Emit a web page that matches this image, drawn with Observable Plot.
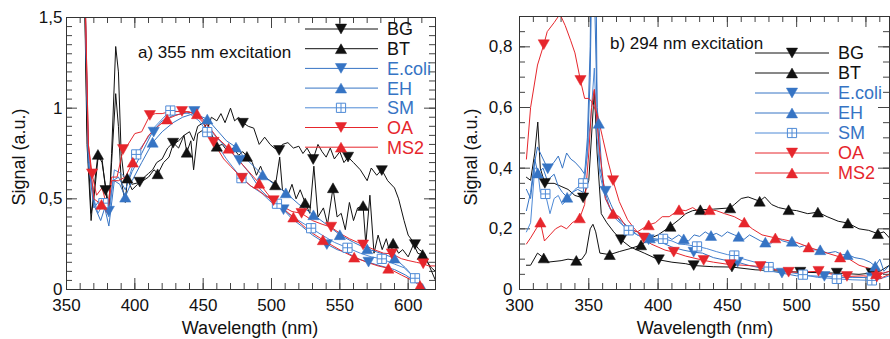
<!DOCTYPE html>
<html><head><meta charset="utf-8">
<script src="https://cdn.jsdelivr.net/npm/d3@7"></script>
<script src="https://cdn.jsdelivr.net/npm/@observablehq/plot@0.6"></script>
<style>
body{margin:0;background:#fff;}
#wrap{display:flex;width:890px;height:339px;}
svg{overflow:visible}
</style></head>
<body><div id="wrap"></div>
<script>
// ---------- DATA ----------
const seriesNames = ["BG","BT","E.coli","EH","SM","OA","MS2"];
const xTicksA = [350,400,450,500,550,600];
const yTicksA = [0,0.5,1,1.5];
const xTicksB = [300,350,400,450,500,550];
const yTicksB = [0,0.2,0.4,0.6,0.8];
const titleA = "a) 355 nm excitation";
const titleB = "b) 294 nm excitation";

// Panel a (355 nm excitation) lines: [wavelength nm, signal]
const aBG = [[362,2.2],[365,0.9],[368,0.42],[370,0.5],[373,0.72],[376,0.72],[378.6,0.55],[381,0.42],[383,0.75],[386,1.34],[388,1.2],[390,0.75],[392,0.62],[395,0.6],[398,0.58],[403,0.59],[407,0.62],[410,0.64],[413,0.66],[416,0.7],[420,0.72],[424,0.78],[428,0.81],[432,0.78],[436,0.85],[440,0.87],[443,0.82],[446,0.9],[450,0.92],[453,0.88],[456,0.95],[460,0.93],[463,0.97],[466,0.92],[470,1.0],[473,0.93],[476,0.95],[479,0.92],[483,0.9],[487,0.89],[491,0.8],[495,0.84],[499,0.8],[502,0.78],[505.6,0.77],[508,0.8],[512,0.81],[516,0.78],[520,0.79],[523,0.75],[526,0.78],[530.5,0.72],[534,0.8],[537,0.76],[540,0.73],[543,0.78],[546,0.72],[550,0.76],[553,0.7],[556,0.73],[560,0.7],[565,0.66],[570,0.6],[573,0.67],[577,0.63],[580.7,0.66],[585,0.6],[590,0.56],[593,0.5],[597,0.38],[600,0.3],[605,0.25],[608,0.22],[612,0.2],[616,0.12],[620,0.05]];
const aBT = [[362,2.2],[365,0.8],[368,0.38],[370,0.55],[373,0.745],[376,0.7],[378,0.6],[381,0.45],[383,0.7],[386,1.08],[388,0.9],[390,0.6],[393,0.48],[394.5,0.61],[398,0.55],[402,0.58],[406,0.6],[410,0.62],[414,0.66],[417,0.64],[421,0.7],[425,0.73],[428,0.8],[432,0.82],[436,0.85],[438,0.757],[441,0.82],[443,0.66],[446,0.86],[450,0.88],[453,0.92],[456,0.86],[460,0.79],[464,0.8],[468,0.76],[472,0.78],[476,0.74],[479,0.76],[482,0.734],[486,0.7],[489,0.63],[492,0.68],[495,0.62],[499,0.6],[503,0.58],[506,0.73],[508,0.55],[512,0.52],[515,0.58],[518,0.5],[521,0.55],[524.6,0.478],[528,0.42],[531,0.68],[534,0.4],[538,0.45],[541,0.36],[545,0.56],[548,0.4],[551,0.42],[554,0.33],[557,0.48],[560,0.38],[563,0.45],[567,0.46],[569,0.25],[572,0.52],[575,0.2],[578,0.3],[581,0.22],[584,0.28],[587,0.19],[589,0.255],[593,0.2],[596,0.22],[600,0.18],[604,0.25],[607,0.2],[610.6,0.19],[614,0.15],[617,0.12],[620,0.1]];
const aEcoli = [[362,2.2],[366,0.7],[370,0.45],[375,0.5],[378,0.45],[381,0.43],[384,0.6],[388,0.62],[393,0.55],[398,0.65],[405,0.75],[413,0.87],[420,0.93],[428,0.96],[435,0.97],[443.5,0.98],[450,0.94],[455,0.88],[462,0.82],[470,0.76],[476.6,0.71],[485,0.63],[492,0.55],[500,0.49],[508.8,0.44],[515,0.39],[522,0.35],[530,0.3],[540.5,0.25],[548,0.22],[556,0.2],[563,0.17],[571,0.15],[580,0.13],[590,0.11],[598,0.08],[604,0.05]];
const aEH = [[362,2.2],[366,0.7],[371,0.45],[375,0.38],[378,0.45],[381,0.35],[385,0.6],[389,0.58],[393,0.51],[398,0.6],[405,0.7],[413,0.81],[420,0.87],[428,0.92],[435,0.95],[443,0.97],[453,0.94],[460,0.88],[467,0.82],[474,0.785],[480,0.73],[487,0.68],[493.5,0.63],[502,0.58],[510.5,0.533],[520,0.47],[530.7,0.412],[540,0.36],[550,0.302],[560,0.26],[570,0.224],[580,0.2],[590,0.173],[598,0.12],[605,0.06],[610.6,0.004]];
const aSM = [[362,2.2],[366,0.75],[370,0.5],[373,0.42],[377,0.476],[381,0.4],[385,0.66],[390,0.64],[395,0.6],[401,0.745],[408,0.82],[415,0.9],[420,0.94],[426,0.987],[433,0.98],[440,0.97],[447,0.93],[453,0.868],[460,0.8],[467,0.72],[478,0.614],[485,0.57],[493,0.53],[500,0.48],[504,0.473],[512,0.42],[520,0.38],[529,0.338],[537,0.3],[546,0.26],[555.6,0.23],[565,0.2],[573,0.18],[580.7,0.169],[590,0.14],[597,0.12],[605,0.062]];
const aOA = [[362,2.2],[366,0.8],[368.7,0.638],[372,0.52],[376,0.56],[380,0.45],[383,0.62],[387,0.62],[391.4,0.772],[395,0.8],[400,0.86],[405,0.87],[411,0.96],[415,0.97],[420,0.97],[425,0.98],[434.5,0.982],[440,0.98],[445,0.96],[450,0.92],[457.6,0.812],[465,0.72],[470,0.68],[478.4,0.614],[485,0.57],[490,0.55],[495,0.52],[501.5,0.49],[510,0.45],[515,0.43],[522,0.42],[530,0.38],[537,0.36],[543.6,0.344],[550,0.31],[557,0.28],[563,0.26],[567,0.246],[575,0.22],[582,0.2],[588,0.197],[595,0.17],[600,0.16],[606,0.15],[611,0.142],[615,0.13],[620,0.13]];
const aMS2 = [[362,2.2],[366,0.8],[370,0.5],[375.6,0.469],[380,0.42],[383,0.6],[388,0.6],[393,0.62],[398.5,0.702],[405,0.78],[410,0.85],[417,0.9],[423.6,0.94],[430,0.96],[438,0.98],[445.5,0.969],[450,0.93],[455,0.89],[460,0.84],[468.6,0.779],[475,0.72],[481,0.67],[491,0.586],[500,0.5],[508,0.45],[516,0.399],[525,0.34],[530,0.31],[537.6,0.274],[545,0.24],[552,0.21],[560.5,0.178],[570,0.15],[578,0.13],[585.5,0.117],[595,0.08],[603,0.05],[608.7,0.022]];

// Panel a markers
const aBGm = [[378.6,0.546],[403.6,0.592],[428,0.807],[479,0.917],[505.6,0.767],[530.5,0.717],[556,0.73],[580.7,0.656],[605,0.248]];
const aBTm = [[373,0.745],[394.5,0.614],[416.7,0.638],[438,0.757],[460,0.79],[482,0.734],[502.7,0.577],[524.6,0.478],[545,0.561],[567,0.463],[589,0.255],[610.6,0.193]];
const aEcolim = [[381,0.432],[413.8,0.868],[443.5,0.982],[476.6,0.712],[508.8,0.44],[540.5,0.248],[571,0.151]];
const aEHm = [[393,0.509],[413,0.812],[453,0.94],[474,0.785],[493.5,0.632],[510.5,0.533],[530.7,0.412],[550,0.302],[570,0.224],[590,0.173],[610.6,0.004]];
const aSMm = [[377,0.476],[401,0.745],[426,0.987],[453,0.868],[478,0.614],[504,0.473],[529,0.338],[555.6,0.23],[580.7,0.169],[605,0.062]];
const aOAm = [[368.7,0.638],[391.4,0.772],[411,0.96],[434.5,0.982],[457.6,0.812],[478.4,0.614],[501.5,0.49],[522,0.42],[543.6,0.344],[567,0.246],[588,0.197],[611,0.142]];
const aMS2m = [[375.6,0.469],[398.5,0.702],[423.6,0.94],[445.5,0.969],[468.6,0.779],[491,0.586],[516,0.399],[537.6,0.274],[560.5,0.178],[585.5,0.117],[608.7,0.022]];

// Panel b (294 nm excitation) lines
const bBG = [[305,0.37],[308,0.36],[311,0.45],[313.2,0.552],[315,0.4],[318.3,0.35],[325,0.35],[330,0.34],[335,0.33],[340,0.31],[345.9,0.302],[350,0.36],[354,0.656],[356,0.45],[359,0.25],[363,0.22],[368,0.19],[373.3,0.164],[380,0.14],[390,0.12],[400.5,0.098],[410,0.09],[420,0.085],[425.7,0.079],[440,0.075],[453.3,0.074],[470,0.065],[490,0.06],[502.6,0.057],[520,0.055],[529,0.054],[545,0.05],[554,0.054],[560,0.06],[567,0.08]];
const bBT = [[305,0.08],[308,0.08],[313,0.12],[317.5,0.104],[320,0.09],[330,0.095],[335,0.1],[341,0.096],[345,0.1],[348,0.12],[351,0.2],[353,0.215],[355,0.19],[358,0.12],[365.1,0.115],[372,0.125],[380,0.135],[387.7,0.147],[395,0.17],[400,0.18],[408.9,0.208],[415,0.23],[420,0.25],[425,0.26],[430.5,0.263],[440,0.265],[452,0.269],[455,0.28],[460,0.3],[465,0.305],[473.3,0.291],[477,0.305],[482,0.28],[487,0.27],[494.2,0.263],[500,0.26],[508,0.25],[515.3,0.255],[522,0.24],[530,0.225],[537,0.219],[545,0.2],[552,0.195],[558.6,0.184],[563,0.19],[567,0.17]];
const bEcoli = [[305,0.33],[308,0.3],[311,0.42],[313,0.47],[316,0.44],[320.4,0.398],[325,0.42],[328,0.44],[331,0.4],[334,0.45],[337,0.43],[340,0.42],[344,0.4],[347,0.38],[349,0.5],[351,0.8],[352,1.2],[355,1.2],[356,0.6],[358,0.4],[362,0.324],[366,0.28],[370,0.24],[375,0.22],[380,0.2],[385,0.18],[393.2,0.164],[400,0.16],[405,0.15],[410,0.14],[418,0.13],[425.7,0.123],[432,0.12],[440,0.105],[450,0.095],[457.4,0.09],[465,0.08],[475,0.07],[482,0.06],[489.4,0.054],[500,0.045],[510,0.045],[520,0.043],[530,0.04],[540,0.04],[554,0.039],[560,0.05],[567,0.06]];
const bEH = [[305,0.26],[308,0.32],[311,0.43],[313.2,0.384],[317,0.4],[320,0.36],[325,0.38],[328,0.34],[331,0.32],[334.4,0.304],[338,0.32],[342,0.33],[346,0.32],[349,0.45],[351,0.7],[352,1.0],[354,1.0],[356,0.6],[357.2,0.548],[360,0.35],[365,0.27],[370,0.24],[375,0.21],[380,0.2],[385,0.19],[390,0.18],[394,0.17],[400,0.165],[405,0.18],[410,0.165],[415,0.18],[418.5,0.167],[422,0.16],[426,0.18],[430,0.175],[434,0.19],[438.2,0.178],[442,0.185],[446,0.175],[450,0.19],[455,0.18],[458.1,0.175],[462,0.165],[466,0.18],[470,0.17],[474,0.16],[477.4,0.156],[481,0.15],[486,0.17],[490,0.16],[494,0.155],[496.6,0.159],[502,0.14],[506,0.145],[510,0.13],[517,0.131],[522,0.12],[528,0.125],[533,0.115],[536.7,0.115],[542,0.105],[548,0.1],[553,0.09],[556.7,0.077],[560,0.1],[563,0.06],[567,0.08]];
const bSM = [[305,0.19],[308,0.22],[311,0.4],[313,0.4],[315,0.32],[318.7,0.315],[322,0.25],[325,0.3],[328,0.31],[331,0.28],[335,0.3],[340,0.33],[346,0.35],[349,0.45],[352,0.6],[354,0.73],[356,0.5],[358,0.38],[362,0.3],[366,0.26],[370,0.23],[375,0.21],[378.8,0.195],[385,0.18],[390,0.17],[395,0.165],[403.6,0.167],[410,0.16],[415,0.15],[420,0.148],[428.1,0.142],[435,0.135],[442,0.125],[450,0.115],[455,0.112],[462,0.1],[470,0.09],[479.8,0.074],[490,0.06],[504.5,0.049],[515,0.04],[529,0.035],[540,0.032],[554.3,0.03],[560,0.035],[567,0.045]];
const bOA = [[305,0.43],[308,0.6],[313,0.74],[317.5,0.807],[320,0.85],[325,0.88],[328,0.9],[330,0.9],[333,0.87],[337,0.82],[340,0.78],[344,0.689],[347,0.63],[350,0.63],[352,0.62],[356,0.58],[360,0.5],[364,0.42],[367.5,0.359],[372,0.29],[378,0.23],[383,0.2],[389.6,0.17],[395,0.15],[400,0.14],[405,0.13],[411.3,0.123],[420,0.11],[432.9,0.096],[440,0.09],[452.1,0.082],[462,0.08],[473.8,0.076],[485,0.065],[494.2,0.057],[505,0.058],[515.8,0.06],[526,0.05],[536.3,0.043],[548,0.045],[557.9,0.041],[563,0.055],[567,0.06]];
const bMS2 = [[305,0.15],[308,0.17],[312,0.2],[315.1,0.222],[318,0.16],[322,0.18],[326,0.2],[330,0.21],[334,0.2],[338,0.22],[343.5,0.236],[347,0.28],[350,0.45],[352,0.6],[354,0.66],[356,0.55],[358,0.45],[362,0.3],[367.5,0.25],[372,0.24],[378,0.2],[385,0.19],[393.2,0.213],[398,0.22],[403,0.24],[408,0.24],[415.1,0.263],[420,0.26],[425,0.27],[430,0.255],[437.2,0.263],[442,0.26],[448,0.25],[455,0.24],[462.2,0.222],[468,0.2],[475,0.18],[484.6,0.17],[490,0.165],[495,0.16],[500,0.155],[508.6,0.14],[515,0.13],[522,0.12],[531.4,0.107],[538,0.1],[545,0.08],[552,0.07],[557.4,0.052],[562,0.04],[567,0.05]];

// Panel b markers
const bBGm = [[318.3,0.35],[345.9,0.302],[373.3,0.164],[400.5,0.098],[425.7,0.079],[453.3,0.074],[502.6,0.057],[529,0.054],[554,0.054]];
const bBTm = [[317.5,0.104],[341,0.096],[365.1,0.115],[387.7,0.147],[408.9,0.208],[430.5,0.263],[452,0.269],[473.3,0.291],[494.2,0.263],[515.3,0.255],[537,0.219],[558.6,0.184]];
const bEcolim = [[320.4,0.398],[362,0.324],[393.2,0.164],[425.7,0.123],[457.4,0.09],[489.4,0.054],[520,0.043],[554,0.039]];
const bEHm = [[313.2,0.384],[334.4,0.304],[357.2,0.548],[394,0.17],[418.5,0.167],[438.2,0.178],[458.1,0.175],[477.4,0.156],[496.6,0.159],[517,0.131],[536.7,0.115],[556.7,0.077]];
const bSMm = [[318.7,0.315],[346,0.35],[378.8,0.195],[403.6,0.167],[428.1,0.142],[455,0.112],[479.8,0.074],[504.5,0.049],[529,0.035],[554.3,0.03]];
const bOAm = [[317.5,0.807],[344,0.689],[367.5,0.359],[389.6,0.17],[411.3,0.123],[432.9,0.096],[452.1,0.082],[473.8,0.076],[494.2,0.057],[515.8,0.06],[536.3,0.043],[557.9,0.041]];
const bMS2m = [[315.1,0.222],[343.5,0.236],[367.5,0.25],[393.2,0.213],[415.1,0.263],[437.2,0.263],[462.2,0.222],[484.6,0.17],[508.6,0.14],[531.4,0.107],[557.4,0.052]];

// ---------- STYLE ----------
const BLACK = "#111", BLUE = "#3674c4", LBLUE = "#4f8ad6", RED = "#e6262c";
const colors = [BLACK, BLACK, BLUE, BLUE, LBLUE, RED, RED];
const font = "Liberation Sans, Arial, sans-serif";

function symTri(down) {
  return { draw(ctx, size) {
    const r = Math.sqrt(size / Math.PI), w = r * 1.12, h = r * 0.98, s = down ? 1 : -1;
    ctx.moveTo(-w, -h * s); ctx.lineTo(w, -h * s); ctx.lineTo(0, h * s); ctx.closePath();
  }};
}
const symSquareCross = { draw(ctx, size) {
  const r = Math.sqrt(size / Math.PI) * 0.92;
  ctx.moveTo(-r, -r); ctx.lineTo(r, -r); ctx.lineTo(r, r); ctx.lineTo(-r, r); ctx.closePath();
  ctx.moveTo(0, -r); ctx.lineTo(0, r); ctx.moveTo(-r, 0); ctx.lineTo(r, 0);
}};
const symbols = [symTri(true), symTri(false), symTri(true), symTri(false), symSquareCross, symTri(true), symTri(false)];

function panel(o) {
  const W = 445, H = 339;
  const fw = W - o.ml - o.mr, fh = H - o.mt - o.mb;
  const xMinor = d3.range(o.xDomain[0], o.xDomain[1] + 0.001, 10);
  const xMajor = xMinor.filter(d => d % 50 === 0);
  const yMinor = d3.range(0, Math.round(o.yDomain[1] / 0.05) + 1).map(i => +(i * 0.05).toFixed(2));
  const yMajor = yMinor.filter(d => Math.abs(d / o.yMajorStep - Math.round(d / o.yMajorStep)) < 1e-6);
  const tk = "#444";
  const marks = [
    Plot.tickX(xMinor, {x: d => d, insetTop: fh - 6, stroke: tk}),
    Plot.tickX(xMajor, {x: d => d, insetTop: fh - 11, stroke: tk}),
    Plot.tickX(xMinor, {x: d => d, insetBottom: fh - 6, stroke: tk}),
    Plot.tickX(xMajor, {x: d => d, insetBottom: fh - 11, stroke: tk}),
    Plot.tickY(yMinor, {y: d => d, insetRight: fw - 6, stroke: tk}),
    Plot.tickY(yMajor, {y: d => d, insetRight: fw - 11, stroke: tk}),
    Plot.tickY(yMinor, {y: d => d, insetLeft: fw - 6, stroke: tk}),
    Plot.tickY(yMajor, {y: d => d, insetLeft: fw - 11, stroke: tk}),
  ];
  o.lines.forEach((ln, i) => {
    marks.push(Plot.line(ln, {x: d => d[0], y: d => d[1], stroke: colors[i], strokeWidth: 1, clip: true}));
  });
  o.markers.forEach((mk, i) => {
    const hollow = i === 4;
    marks.push(Plot.dot(mk, {x: d => d[0], y: d => d[1], r: 5, symbol: symbols[i],
      fill: hollow ? "white" : colors[i], stroke: colors[i], strokeWidth: hollow ? 1 : 0.5, clip: true}));
  });
  marks.push(Plot.frame({stroke: "#333", strokeWidth: 1}));
  const chart = Plot.plot({
    width: W, height: H,
    marginLeft: o.ml, marginRight: o.mr, marginTop: o.mt, marginBottom: o.mb,
    style: {fontFamily: font, fontSize: "17px", color: "#111", background: "white", overflow: "visible"},
    x: {domain: o.xDomain, ticks: o.xTicks, tickSize: 0, tickPadding: 9, label: null, tickFormat: d => String(d)},
    y: {domain: o.yDomain, ticks: o.yTicks, tickSize: 0, tickPadding: o.ypad, label: null, tickFormat: d => String(d).replace(".", ",")},
    marks
  });
  const svg = d3.select(chart);
  // axis titles
  svg.append("text").attr("x", o.ylx).attr("y", 157).attr("transform", `rotate(-90 ${o.ylx} 157)`)
    .attr("text-anchor", "middle").attr("dominant-baseline", "central")
    .attr("font-family", font).attr("font-size", 18).attr("fill", "#111").text("Signal (a.u.)");
  svg.append("text").attr("x", o.xlx).attr("y", 334).attr("text-anchor", "middle")
    .attr("font-family", font).attr("font-size", 18).attr("fill", "#111").text("Wavelength (nm)");
  // annotation
  svg.append("text").attr("x", o.tx).attr("y", o.ty).attr("text-anchor", "start")
    .attr("font-family", font).attr("font-size", 17).attr("fill", "#111").text(o.title);
  // legend
  const lg = svg.append("g");
  seriesNames.forEach((name, i) => {
    const y = o.ly + i * o.lstep;
    lg.append("line").attr("x1", o.lx1).attr("x2", o.lx2).attr("y1", y).attr("y2", y)
      .attr("stroke", colors[i]).attr("stroke-width", 1);
    const hollow = i === 4;
    lg.append("path").attr("d", d3.symbol(symbols[i], 25 * Math.PI)())
      .attr("transform", `translate(${o.lm},${y})`)
      .attr("fill", hollow ? "white" : colors[i]).attr("stroke", colors[i]).attr("stroke-width", hollow ? 1 : 0.5);
    lg.append("text").attr("x", o.lt).attr("y", y).attr("dy", "0.36em").attr("text-anchor", "start")
      .attr("font-family", font).attr("font-size", 18).attr("fill", colors[i] === LBLUE ? BLUE : colors[i]).text(name);
  });
  return chart;
}

const wrap = document.getElementById("wrap");
wrap.appendChild(panel({
  xDomain: [350, 620], yDomain: [0, 1.5], xTicks: xTicksA, yTicks: yTicksA, yMajorStep: 0.5,
  ml: 66, mr: 10, mt: 17, mb: 50, ypad: 4,
  lines: [aBG, aBT, aEcoli, aEH, aSM, aOA, aMS2],
  markers: [aBGm, aBTm, aEcolim, aEHm, aSMm, aOAm, aMS2m],
  ylx: 19, xlx: 250, title: titleA, tx: 138, ty: 58,
  lx1: 305, lx2: 378, lm: 341, lt: 387, ly: 29, lstep: 19.7
}));
wrap.appendChild(panel({
  xDomain: [300, 567], yDomain: [0, 0.9], xTicks: xTicksB, yTicks: yTicksB, yMajorStep: 0.2,
  ml: 74, mr: 1, mt: 16, mb: 50, ypad: 7,
  lines: [bBG, bBT, bEcoli, bEH, bSM, bOA, bMS2],
  markers: [bBGm, bBTm, bEcolim, bEHm, bSMm, bOAm, bMS2m],
  ylx: 26, xlx: 260, title: titleB, tx: 165, ty: 49,
  lx1: 310, lx2: 384, lm: 347, lt: 393, ly: 53, lstep: 20
}));
</script>
</body></html>
